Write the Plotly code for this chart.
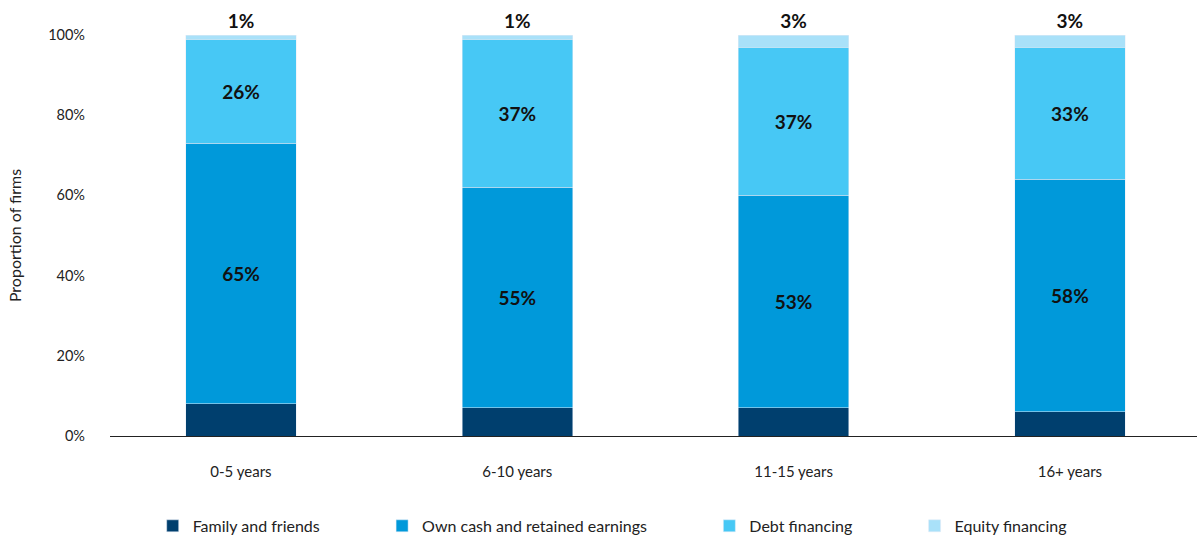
import plotly.graph_objects as go

categories = ["0-5 years", "6-10 years", "11-15 years", "16+ years"]
family = [8, 7, 7, 6]
own_cash = [65, 55, 53, 58]
debt = [26, 37, 37, 33]
equity = [1, 1, 3, 3]
series_names = ["Family and friends", "Own cash and retained earnings", "Debt financing", "Equity financing"]
colors = ["#003F6E", "#0099DA", "#47C8F5", "#A9E1F9"]
ytick_vals = [0, 20, 40, 60, 80, 100]
ytick_text = ["0%", "20%", "40%", "60%", "80%", "100%"]

FONT = "Lato, Open Sans, sans-serif"
pad = "\u00a0" * 14
LBL = dict(size=19, color="#111", family=FONT)

fig = go.Figure()
fig.add_trace(go.Bar(x=categories, y=family, name=series_names[0] + pad, marker_color=colors[0],
                     width=0.4, hoverinfo="skip"))
fig.add_trace(go.Bar(x=categories, y=own_cash, name=series_names[1] + pad, marker_color=colors[1],
                     width=0.4, text=[f"<b>{v}%</b>" for v in own_cash], textposition="inside",
                     insidetextanchor="middle", textfont=LBL, constraintext="none"))
fig.add_trace(go.Bar(x=categories, y=debt, name=series_names[2] + pad, marker_color=colors[2],
                     width=0.4, text=[f"<b>{v}%</b>" for v in debt], textposition="inside",
                     insidetextanchor="middle", textfont=LBL, constraintext="none"))
fig.add_trace(go.Bar(x=categories, y=equity, name=series_names[3], marker_color=colors[3],
                     width=0.4, text=[f"<b>{v}%</b>" for v in equity], textposition="outside",
                     textfont=LBL, constraintext="none", cliponaxis=False))

fig.update_layout(
    barmode="stack",
    width=1197, height=535,
    margin=dict(l=110, r=0, t=35, b=99),
    plot_bgcolor="white", paper_bgcolor="white",
    font=dict(family=FONT, size=15, color="#222"),
    uniformtext=dict(mode=False),
    xaxis=dict(range=[-0.474, 3.46], showline=True, linecolor="#222", linewidth=1,
               ticks="", ticklabelstandoff=22, tickfont=dict(size=15), automargin=False),
    yaxis=dict(range=[0, 100], tickvals=ytick_vals, ticktext=ytick_text, showgrid=False,
               zeroline=False, ticklabelstandoff=24, tickfont=dict(size=14.5), automargin=False,
               title=dict(text="Proportion of firms", font=dict(size=16), standoff=22)),
    legend=dict(orientation="h", x=0.462, xanchor="center", yref="container", y=0.017,
                yanchor="middle", font=dict(size=16), traceorder="normal"),
    showlegend=True,
)

fig.write_html("out.html", config={"displayModeBar": False},
               post_script="document.body.style.margin='0';")
